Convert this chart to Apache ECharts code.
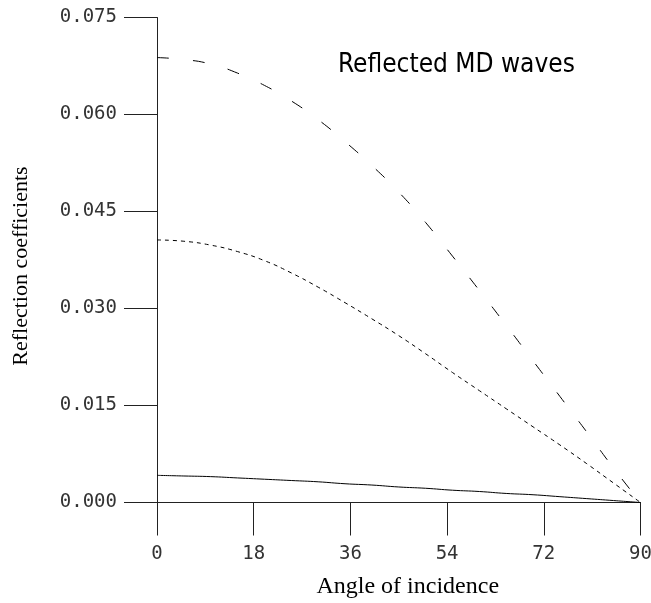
<!DOCTYPE html>
<html>
<head>
<meta charset="utf-8">
<script src="https://cdn.jsdelivr.net/npm/echarts@6/dist/echarts.min.js"></script>
<style>
  html, body { margin: 0; padding: 0; background: #fff; }
  #chart { width: 651px; height: 603px; }
</style>
</head>
<body>
<div id="chart"></div>
<script>
// angle of incidence (degrees)
const angles = [0, 5, 10, 15, 20, 25, 30, 35, 40, 45, 50, 55, 60, 65, 70, 75, 80, 85, 90];
// long dashed curve
const dashedVals = [0.0688, 0.0685, 0.0678, 0.0664, 0.0645, 0.0621, 0.0592, 0.0558, 0.0521, 0.0480,
  0.0433, 0.0381, 0.0328, 0.0274, 0.0219, 0.0164, 0.0109, 0.0053, 0.0000];
// short dashed curve
const dottedVals = [0.0406, 0.0404, 0.0398, 0.0388, 0.0374, 0.0355, 0.0333, 0.0309, 0.0284, 0.0258,
  0.0230, 0.0201, 0.0173, 0.0145, 0.0117, 0.0089, 0.0060, 0.0030, 0.0000];
// solid curve
const solidVals = [0.0042, 0.0041, 0.0040, 0.0038, 0.0036, 0.0034, 0.0032, 0.0029, 0.0027, 0.0024,
  0.0022, 0.0019, 0.0017, 0.0014, 0.0012, 0.0009, 0.0006, 0.0003, 0.0000];

function pairs(vals) {
  return angles.map((a, i) => [a, vals[i]]);
}

let myChart = echarts.init(document.getElementById('chart'));

let axisColor = '#222';
let tickFont = {
  fontFamily: 'DejaVu Sans Mono',
  fontSize: 19,
  color: '#333'
};

let option = {
  animation: false,
  title: {
    text: 'Reflected MD waves',
    left: 333,
    top: 47,
    textStyle: {
      fontFamily: 'DejaVu Sans Condensed, DejaVu Sans',
      fontWeight: 'normal',
      fontSize: 26,
      color: '#000'
    }
  },
  grid: {
    left: 157,
    right: 10.5,
    top: 17.5,
    bottom: 100.5,
    outerBoundsMode: 'none'
  },
  xAxis: {
    type: 'value',
    min: 0,
    max: 90,
    interval: 18,
    name: 'Angle of incidence',
    nameLocation: 'middle',
    nameGap: 72,
    nameTextStyle: {
      fontFamily: 'Liberation Serif',
      fontSize: 24,
      color: '#000',
      padding: [0, 0, 0, 18]
    },
    axisLine: { lineStyle: { color: axisColor, width: 1 } },
    axisTick: { length: 33, lineStyle: { color: axisColor, width: 1 } },
    splitLine: { show: false },
    axisLabel: Object.assign({ margin: 42 }, tickFont)
  },
  yAxis: {
    type: 'value',
    min: 0,
    max: 0.075,
    interval: 0.015,
    name: 'Reflection coefficients',
    nameLocation: 'middle',
    nameGap: 125,
    nameTextStyle: {
      fontFamily: 'Liberation Serif',
      fontSize: 22,
      color: '#000',
      padding: [0, 12, 0, 0]
    },
    axisLine: { show: true, lineStyle: { color: axisColor, width: 1 } },
    axisTick: { show: true, length: 33, lineStyle: { color: axisColor, width: 1 } },
    splitLine: { show: false },
    axisLabel: Object.assign({
      margin: 40,
      formatter: function (v) { return v.toFixed(3); }
    }, tickFont)
  },
  series: [
    {
      name: 'dashed',
      type: 'line',
      smooth: true,
      symbol: 'none',
      lineStyle: { color: '#000', width: 1, type: [12, 24] },
      data: pairs(dashedVals)
    },
    {
      name: 'dotted',
      type: 'line',
      smooth: true,
      symbol: 'none',
      lineStyle: { color: '#000', width: 1, type: [4, 4] },
      data: pairs(dottedVals)
    },
    {
      name: 'solid',
      type: 'line',
      smooth: true,
      symbol: 'none',
      lineStyle: { color: '#000', width: 1 },
      data: pairs(solidVals)
    }
  ]
};

myChart.setOption(option);
</script>
</body>
</html>
